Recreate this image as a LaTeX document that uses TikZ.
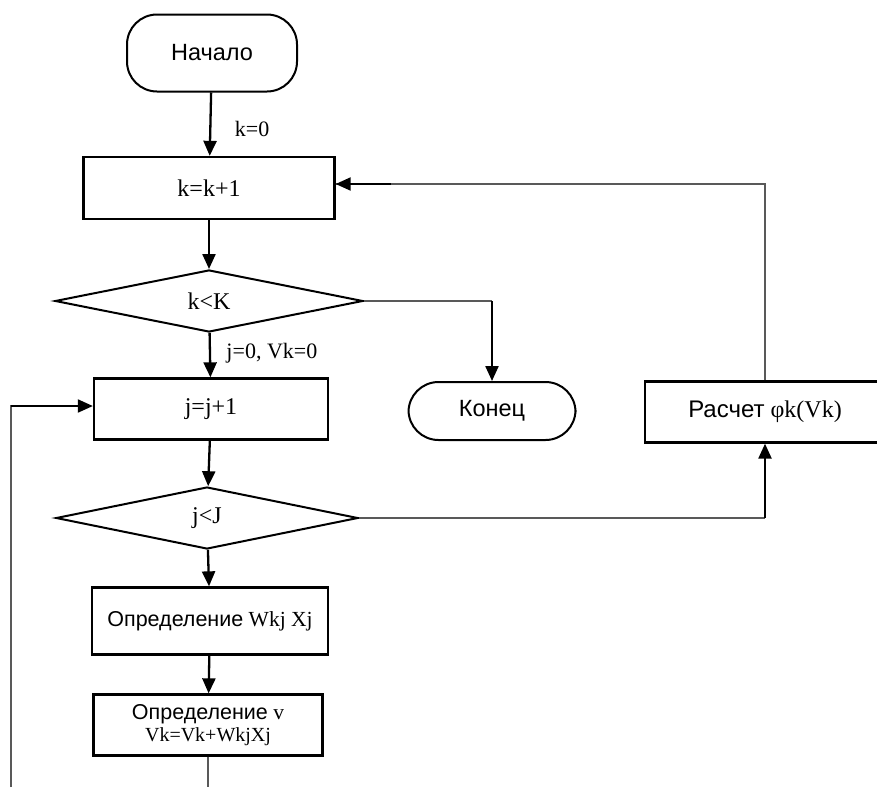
\documentclass[tikz,border=0pt]{standalone}
\usepackage{fontspec}
\setmainfont{Liberation Serif}
\newfontfamily\cyr{Liberation Sans}
\usetikzlibrary{shapes.geometric,arrows.meta}
\tikzset{
  blk/.style={draw, line width=2.3pt, inner sep=0pt, font=\fontsize{24}{28}\selectfont},
  term/.style={blk, line width=2pt, rounded corners=30pt, font=\cyr\fontsize{23.5}{28}\selectfont},
  cond/.style={blk, diamond, line width=2pt},
  link/.style={line width=2.3pt, -{Triangle[length=15pt,width=13pt]}},
  back/.style={line width=1.6pt, draw=black!65},
  lbl/.style={right, font=\fontsize{22}{26}\selectfont},
}
\begin{document}
\begin{tikzpicture}[x=1pt, y=-1pt]
  \useasboundingbox (0,0) rectangle (877,787);
  \clip (0,0) rectangle (877,787);
  \node[term, minimum width=170pt, minimum height=77pt] (start) at (212,53) {Начало};
  \node[blk, minimum width=251pt, minimum height=62pt] (inck) at (209,188) {k=k+1};
  \node[cond, minimum width=308pt, minimum height=62pt] (dk) at (209,301) {k<K};
  \node[term, minimum width=167pt, minimum height=58pt] (stop) at (492,411) {Конец};
  \node[blk, minimum width=234pt, minimum height=61pt] (incj) at (211,409) {j=j+1};
  \node[blk, minimum width=240pt, minimum height=61pt] (calc) at (765,412) {{\cyr Расчет} φk(Vk)};
  \node[cond, minimum width=302pt, minimum height=62pt] (dj) at (207,518) {j<J};
  \node[blk, minimum width=236pt, minimum height=67pt, font=\fontsize{21.5}{25}\selectfont] (wkj) at (210,621)
    {{\cyr Определение} Wkj Xj};
  \node[blk, minimum width=229pt, minimum height=61pt, align=center, font=\fontsize{21.5}{25}\selectfont] (sumv) at (208,725)
    {{\cyr Определение} v\\[-3pt]{\fontsize{20}{22}\selectfont Vk=Vk+WkjXj}};
  \coordinate (bot) at (212,787);
  \coordinate (lft) at (11,787);
  \draw[link] (start) -- node[lbl, xshift=20pt, yshift=-5pt] {k=0} (inck);
  \draw[link] (inck) -- (dk);
  \draw[link] (dk) -- node[lbl, xshift=12pt, yshift=2pt] {j=0, Vk=0} (incj);
  \draw[link] (incj) -- (dj);
  \draw[link] (dj) -- (wkj);
  \draw[link] (wkj) -- (sumv);
  \draw[back] (dk.east) -- (dk.east -| stop.north);
  \draw[link] (dk.east -| stop.north) -- (stop.north);
  \draw[back] (dj.east) -- (dj.east -| calc.south);
  \draw[link] (dj.east -| calc.south) -- (calc.south);
  \draw[back] (calc.north) |- ([yshift=4pt]inck.east);
  \draw[link, line width=2pt] ([yshift=4pt, xshift=55pt]inck.east) -- ([yshift=4pt]inck.east);
  \draw[back] (sumv.south) -- (sumv.south |- bot);
  \draw[back] (lft) |- ([yshift=3pt, xshift=-40pt]incj.west);
  \draw[link, line width=2pt] ([yshift=3pt, xshift=-82pt]incj.west) -- ([yshift=3pt]incj.west);
\end{tikzpicture}
\end{document}
